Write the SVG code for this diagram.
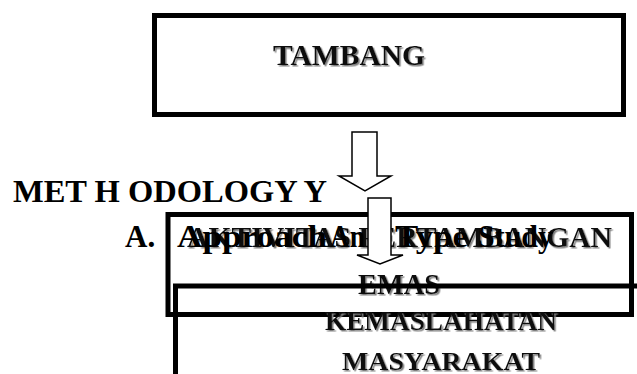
<svg xmlns="http://www.w3.org/2000/svg" width="637" height="374" viewBox="0 0 637 374">
<defs>
<filter id="shadow" x="-5%" y="-20%" width="110%" height="140%">
<feDropShadow dx="1.5" dy="1.5" stdDeviation="0.3" flood-color="#808080" flood-opacity="1"/>
</filter>
</defs>
<style>
.box{fill:none;stroke:#000;stroke-width:5}
.deco{font-family:"Liberation Serif","DejaVu Serif",serif;font-weight:bold;fill:#111;filter:url(#shadow)}
.head{font-family:"Liberation Serif","DejaVu Serif",serif;font-weight:bold;fill:#000}
.arrow{fill:#fff;stroke:#000;stroke-width:1.5;stroke-linejoin:miter}
</style>
<rect width="637" height="374" fill="#fff"/>
<g id="node-tambang">
<rect class="box" x="154.5" y="15.5" width="469" height="99"/>
<text class="deco" x="273" y="65" font-size="30" textLength="152" lengthAdjust="spacingAndGlyphs">TAMBANG</text>
</g>
<text class="head" x="13" y="202" font-size="31" textLength="314" lengthAdjust="spacingAndGlyphs">MET H ODOLOGY Y</text>
<g id="node-aktivitas">
<rect class="box" x="168" y="214.5" width="463.5" height="100"/>
<text class="deco" x="187" y="247" font-size="30" textLength="425" lengthAdjust="spacingAndGlyphs">AKTIVITAS PERTAMBANGAN</text>
<text class="deco" x="358" y="294" font-size="29" textLength="82" lengthAdjust="spacingAndGlyphs">EMAS</text>
</g>
<g id="connectors">
<polygon class="arrow" points="352,132 377,132 377,176 391,176 365,191 339,176 352,176"/>
<polygon class="arrow" points="368,198 391,198 391,255 403,255 380,264 357,255 368,255"/>
</g>
<text class="head" y="247" font-size="31"><tspan x="125">A.</tspan><tspan x="177" textLength="150" lengthAdjust="spacingAndGlyphs">Approach</tspan><tspan x="330" textLength="35" lengthAdjust="spacingAndGlyphs">An</tspan><tspan x="395" textLength="73" lengthAdjust="spacingAndGlyphs">Type</tspan><tspan x="478" textLength="75" lengthAdjust="spacingAndGlyphs">Study</tspan></text>
<g id="node-kemaslahatan">
<rect class="box" x="175.5" y="286" width="480" height="120"/>
<text class="deco" x="325" y="330" font-size="27" textLength="232" lengthAdjust="spacingAndGlyphs">KEMASLAHATAN</text>
<text class="deco" x="342" y="370" font-size="26" textLength="198" lengthAdjust="spacingAndGlyphs">MASYARAKAT</text>
</g>
</svg>
